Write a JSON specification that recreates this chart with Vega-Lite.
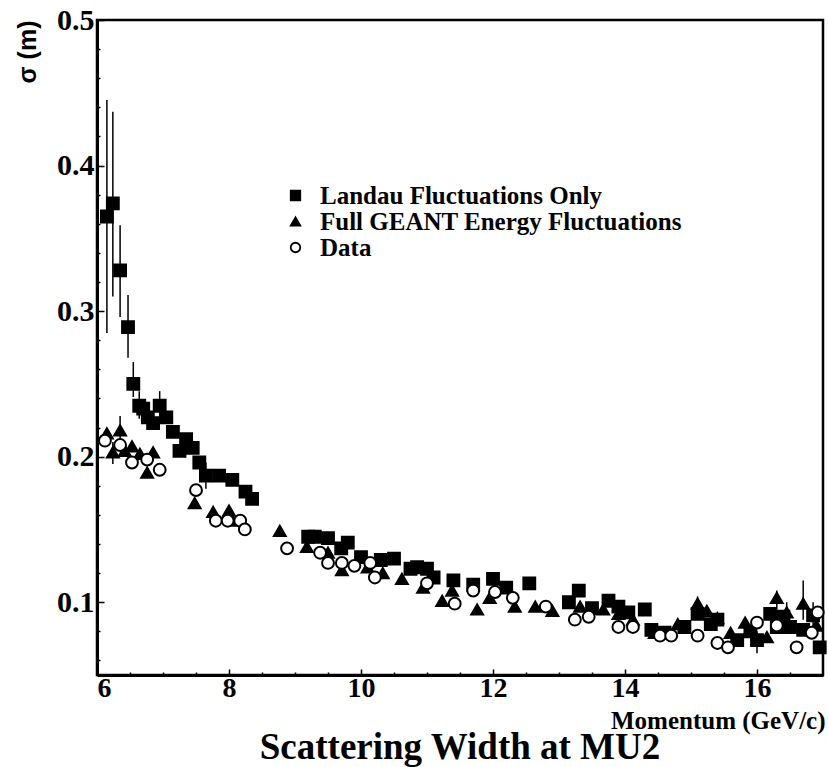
{
  "$schema": "https://vega.github.io/schema/vega-lite/v6.json",
  "autosize": {"type": "none"},
  "padding": {"left": 97, "top": 20, "right": 5, "bottom": 92},
  "width": 726,
  "height": 655,
  "background": "white",
  "config": {
    "view": {"stroke": "black", "strokeWidth": 2.5},
    "axis": {"grid": false, "domainColor": "black", "tickColor": "black", "labelColor": "black", "titleColor": "black"},
    "legend": {"title": null, "orient": "none", "legendX": 186, "legendY": 163, "padding": 0, "rowPadding": 0,
      "labelFont": "Liberation Serif", "labelFontWeight": "bold", "labelFontSize": 25, "labelColor": "black", "labelLimit": 600,
      "labelOffset": 12, "symbolSize": 90, "symbolStrokeWidth": 1.8}
  },
  "title": {
    "text": "Scattering Width at MU2",
    "orient": "bottom",
    "anchor": "middle",
    "font": "Liberation Serif",
    "fontWeight": "bold",
    "fontSize": 37,
    "color": "black",
    "offset": -3
  },
  "datasets": {
    "pts": [
      {"p": 6.15, "s": 0.365, "series": "Landau Fluctuations Only"},
      {"p": 6.24, "s": 0.374, "series": "Landau Fluctuations Only"},
      {"p": 6.35, "s": 0.328, "series": "Landau Fluctuations Only"},
      {"p": 6.47, "s": 0.289, "series": "Landau Fluctuations Only"},
      {"p": 6.55, "s": 0.25, "series": "Landau Fluctuations Only"},
      {"p": 6.64, "s": 0.235, "series": "Landau Fluctuations Only"},
      {"p": 6.7, "s": 0.233, "series": "Landau Fluctuations Only"},
      {"p": 6.77, "s": 0.227, "series": "Landau Fluctuations Only"},
      {"p": 6.85, "s": 0.223, "series": "Landau Fluctuations Only"},
      {"p": 6.95, "s": 0.235, "series": "Landau Fluctuations Only"},
      {"p": 7.05, "s": 0.227, "series": "Landau Fluctuations Only"},
      {"p": 7.15, "s": 0.217, "series": "Landau Fluctuations Only"},
      {"p": 7.25, "s": 0.204, "series": "Landau Fluctuations Only"},
      {"p": 7.35, "s": 0.212, "series": "Landau Fluctuations Only"},
      {"p": 7.45, "s": 0.206, "series": "Landau Fluctuations Only"},
      {"p": 7.55, "s": 0.196, "series": "Landau Fluctuations Only"},
      {"p": 7.65, "s": 0.187, "series": "Landau Fluctuations Only"},
      {"p": 7.85, "s": 0.187, "series": "Landau Fluctuations Only"},
      {"p": 8.05, "s": 0.184, "series": "Landau Fluctuations Only"},
      {"p": 8.25, "s": 0.176, "series": "Landau Fluctuations Only"},
      {"p": 8.35, "s": 0.171, "series": "Landau Fluctuations Only"},
      {"p": 9.2, "s": 0.145, "series": "Landau Fluctuations Only"},
      {"p": 9.3, "s": 0.145, "series": "Landau Fluctuations Only"},
      {"p": 9.5, "s": 0.144, "series": "Landau Fluctuations Only"},
      {"p": 9.7, "s": 0.137, "series": "Landau Fluctuations Only"},
      {"p": 9.8, "s": 0.141, "series": "Landau Fluctuations Only"},
      {"p": 10.0, "s": 0.131, "series": "Landau Fluctuations Only"},
      {"p": 10.3, "s": 0.129, "series": "Landau Fluctuations Only"},
      {"p": 10.5, "s": 0.13, "series": "Landau Fluctuations Only"},
      {"p": 10.75, "s": 0.123, "series": "Landau Fluctuations Only"},
      {"p": 10.85, "s": 0.124, "series": "Landau Fluctuations Only"},
      {"p": 11.0, "s": 0.123, "series": "Landau Fluctuations Only"},
      {"p": 11.1, "s": 0.117, "series": "Landau Fluctuations Only"},
      {"p": 11.4, "s": 0.115, "series": "Landau Fluctuations Only"},
      {"p": 11.7, "s": 0.112, "series": "Landau Fluctuations Only"},
      {"p": 12.0, "s": 0.116, "series": "Landau Fluctuations Only"},
      {"p": 12.2, "s": 0.11, "series": "Landau Fluctuations Only"},
      {"p": 12.55, "s": 0.113, "series": "Landau Fluctuations Only"},
      {"p": 13.15, "s": 0.1, "series": "Landau Fluctuations Only"},
      {"p": 13.3, "s": 0.108, "series": "Landau Fluctuations Only"},
      {"p": 13.5, "s": 0.096, "series": "Landau Fluctuations Only"},
      {"p": 13.75, "s": 0.101, "series": "Landau Fluctuations Only"},
      {"p": 13.9, "s": 0.097, "series": "Landau Fluctuations Only"},
      {"p": 14.05, "s": 0.093, "series": "Landau Fluctuations Only"},
      {"p": 14.3, "s": 0.095, "series": "Landau Fluctuations Only"},
      {"p": 14.4, "s": 0.081, "series": "Landau Fluctuations Only"},
      {"p": 14.6, "s": 0.079, "series": "Landau Fluctuations Only"},
      {"p": 14.9, "s": 0.083, "series": "Landau Fluctuations Only"},
      {"p": 15.1, "s": 0.092, "series": "Landau Fluctuations Only"},
      {"p": 15.3, "s": 0.085, "series": "Landau Fluctuations Only"},
      {"p": 15.4, "s": 0.088, "series": "Landau Fluctuations Only"},
      {"p": 15.7, "s": 0.074, "series": "Landau Fluctuations Only"},
      {"p": 15.9, "s": 0.08, "series": "Landau Fluctuations Only"},
      {"p": 16.0, "s": 0.074, "series": "Landau Fluctuations Only"},
      {"p": 16.2, "s": 0.092, "series": "Landau Fluctuations Only"},
      {"p": 16.3, "s": 0.083, "series": "Landau Fluctuations Only"},
      {"p": 16.4, "s": 0.09, "series": "Landau Fluctuations Only"},
      {"p": 16.5, "s": 0.083, "series": "Landau Fluctuations Only"},
      {"p": 16.7, "s": 0.081, "series": "Landau Fluctuations Only"},
      {"p": 16.85, "s": 0.091, "series": "Landau Fluctuations Only"},
      {"p": 16.95, "s": 0.069, "series": "Landau Fluctuations Only"},
      {"p": 6.15, "s": 0.216, "series": "Full GEANT Energy Fluctuations"},
      {"p": 6.24, "s": 0.203, "series": "Full GEANT Energy Fluctuations"},
      {"p": 6.35, "s": 0.218, "series": "Full GEANT Energy Fluctuations"},
      {"p": 6.42, "s": 0.204, "series": "Full GEANT Energy Fluctuations"},
      {"p": 6.53, "s": 0.207, "series": "Full GEANT Energy Fluctuations"},
      {"p": 6.65, "s": 0.202, "series": "Full GEANT Energy Fluctuations"},
      {"p": 6.76, "s": 0.189, "series": "Full GEANT Energy Fluctuations"},
      {"p": 6.85, "s": 0.203, "series": "Full GEANT Energy Fluctuations"},
      {"p": 7.48, "s": 0.168, "series": "Full GEANT Energy Fluctuations"},
      {"p": 7.76, "s": 0.162, "series": "Full GEANT Energy Fluctuations"},
      {"p": 8.0, "s": 0.163, "series": "Full GEANT Energy Fluctuations"},
      {"p": 8.05, "s": 0.156, "series": "Full GEANT Energy Fluctuations"},
      {"p": 8.77, "s": 0.149, "series": "Full GEANT Energy Fluctuations"},
      {"p": 9.18, "s": 0.138, "series": "Full GEANT Energy Fluctuations"},
      {"p": 9.5, "s": 0.134, "series": "Full GEANT Energy Fluctuations"},
      {"p": 9.71, "s": 0.122, "series": "Full GEANT Energy Fluctuations"},
      {"p": 10.1, "s": 0.124, "series": "Full GEANT Energy Fluctuations"},
      {"p": 10.33, "s": 0.12, "series": "Full GEANT Energy Fluctuations"},
      {"p": 10.62, "s": 0.116, "series": "Full GEANT Energy Fluctuations"},
      {"p": 10.94, "s": 0.11, "series": "Full GEANT Energy Fluctuations"},
      {"p": 11.23, "s": 0.101, "series": "Full GEANT Energy Fluctuations"},
      {"p": 11.38, "s": 0.108, "series": "Full GEANT Energy Fluctuations"},
      {"p": 11.76, "s": 0.095, "series": "Full GEANT Energy Fluctuations"},
      {"p": 11.95, "s": 0.103, "series": "Full GEANT Energy Fluctuations"},
      {"p": 12.33, "s": 0.097, "series": "Full GEANT Energy Fluctuations"},
      {"p": 12.64, "s": 0.097, "series": "Full GEANT Energy Fluctuations"},
      {"p": 12.9, "s": 0.094, "series": "Full GEANT Energy Fluctuations"},
      {"p": 13.32, "s": 0.097, "series": "Full GEANT Energy Fluctuations"},
      {"p": 13.67, "s": 0.095, "series": "Full GEANT Energy Fluctuations"},
      {"p": 13.9, "s": 0.092, "series": "Full GEANT Energy Fluctuations"},
      {"p": 14.12, "s": 0.088, "series": "Full GEANT Energy Fluctuations"},
      {"p": 14.45, "s": 0.079, "series": "Full GEANT Energy Fluctuations"},
      {"p": 14.8, "s": 0.085, "series": "Full GEANT Energy Fluctuations"},
      {"p": 15.1, "s": 0.099, "series": "Full GEANT Energy Fluctuations"},
      {"p": 15.24, "s": 0.094, "series": "Full GEANT Energy Fluctuations"},
      {"p": 15.4, "s": 0.089, "series": "Full GEANT Energy Fluctuations"},
      {"p": 15.6, "s": 0.079, "series": "Full GEANT Energy Fluctuations"},
      {"p": 15.82, "s": 0.086, "series": "Full GEANT Energy Fluctuations"},
      {"p": 16.15, "s": 0.076, "series": "Full GEANT Energy Fluctuations"},
      {"p": 16.3, "s": 0.103, "series": "Full GEANT Energy Fluctuations"},
      {"p": 16.45, "s": 0.093, "series": "Full GEANT Energy Fluctuations"},
      {"p": 16.7, "s": 0.099, "series": "Full GEANT Energy Fluctuations"},
      {"p": 16.9, "s": 0.084, "series": "Full GEANT Energy Fluctuations"},
      {"p": 6.12, "s": 0.211, "series": "Data"},
      {"p": 6.35, "s": 0.208, "series": "Data"},
      {"p": 6.53, "s": 0.196, "series": "Data"},
      {"p": 6.76, "s": 0.198, "series": "Data"},
      {"p": 6.95, "s": 0.191, "series": "Data"},
      {"p": 7.5, "s": 0.177, "series": "Data"},
      {"p": 7.8, "s": 0.156, "series": "Data"},
      {"p": 7.98, "s": 0.156, "series": "Data"},
      {"p": 8.17, "s": 0.156, "series": "Data"},
      {"p": 8.24, "s": 0.15, "series": "Data"},
      {"p": 8.88, "s": 0.137, "series": "Data"},
      {"p": 9.38, "s": 0.134, "series": "Data"},
      {"p": 9.5, "s": 0.127, "series": "Data"},
      {"p": 9.71, "s": 0.127, "series": "Data"},
      {"p": 9.9, "s": 0.125, "series": "Data"},
      {"p": 10.14, "s": 0.127, "series": "Data"},
      {"p": 10.21, "s": 0.117, "series": "Data"},
      {"p": 11.0, "s": 0.113, "series": "Data"},
      {"p": 11.42, "s": 0.099, "series": "Data"},
      {"p": 11.7, "s": 0.108, "series": "Data"},
      {"p": 12.03, "s": 0.107, "series": "Data"},
      {"p": 12.3, "s": 0.103, "series": "Data"},
      {"p": 12.8, "s": 0.097, "series": "Data"},
      {"p": 13.24, "s": 0.088, "series": "Data"},
      {"p": 13.45, "s": 0.09, "series": "Data"},
      {"p": 13.9, "s": 0.083, "series": "Data"},
      {"p": 14.12, "s": 0.083, "series": "Data"},
      {"p": 14.53, "s": 0.077, "series": "Data"},
      {"p": 14.7, "s": 0.077, "series": "Data"},
      {"p": 15.1, "s": 0.077, "series": "Data"},
      {"p": 15.4, "s": 0.072, "series": "Data"},
      {"p": 15.56, "s": 0.069, "series": "Data"},
      {"p": 16.0, "s": 0.086, "series": "Data"},
      {"p": 16.3, "s": 0.084, "series": "Data"},
      {"p": 16.6, "s": 0.069, "series": "Data"},
      {"p": 16.83, "s": 0.079, "series": "Data"},
      {"p": 16.92, "s": 0.093, "series": "Data"}
    ],
    "errs": [
      {"p": 6.15, "lo": 0.285, "hi": 0.445},
      {"p": 6.24, "lo": 0.31, "hi": 0.437},
      {"p": 6.35, "lo": 0.296, "hi": 0.359},
      {"p": 6.47, "lo": 0.268, "hi": 0.311},
      {"p": 6.55, "lo": 0.241, "hi": 0.265},
      {"p": 6.64, "lo": 0.226, "hi": 0.245},
      {"p": 6.95, "lo": 0.225, "hi": 0.245},
      {"p": 7.65, "lo": 0.178, "hi": 0.196},
      {"p": 6.24, "lo": 0.195, "hi": 0.21},
      {"p": 6.35, "lo": 0.21, "hi": 0.228},
      {"p": 15.1, "lo": 0.09, "hi": 0.104},
      {"p": 16.0, "lo": 0.065, "hi": 0.08},
      {"p": 16.3, "lo": 0.095, "hi": 0.108},
      {"p": 16.45, "lo": 0.085, "hi": 0.1},
      {"p": 16.7, "lo": 0.088, "hi": 0.115},
      {"p": 16.85, "lo": 0.082, "hi": 0.1}
    ]
  },
  "resolve": {"axis": {"x": "independent", "y": "independent"}},
  "layer": [
    {
      "data": {"name": "errs"},
      "mark": {"type": "rule", "color": "black", "strokeWidth": 1.5},
      "encoding": {
        "x": {"field": "p", "type": "quantitative", "scale": {"domain": [6, 17], "nice": false, "zero": false},
          "axis": {"orient": "bottom", "values": [6.5, 7, 7.5, 8.5, 9, 9.5, 10.5, 11, 11.5, 12.5, 13, 13.5, 14.5, 15, 15.5, 16.5], "labels": false, "domain": false, "ticks": true, "tickSize": -3, "tickWidth": 1.5, "title": null, "grid": false}},
        "y": {"field": "lo", "type": "quantitative", "scale": {"domain": [0.05, 0.5], "nice": false, "zero": false},
          "axis": {"orient": "left", "values": [0.06, 0.08, 0.12, 0.14, 0.16, 0.18, 0.22, 0.24, 0.26, 0.28, 0.32, 0.34, 0.36, 0.38, 0.42, 0.44, 0.46, 0.48], "labels": false, "domain": false, "ticks": true, "tickSize": -3, "tickWidth": 1.5, "title": null, "grid": false}},
        "y2": {"field": "hi"}
      }
    },
    {
      "data": {"name": "pts"},
      "mark": {"type": "point", "strokeWidth": 2, "opacity": 1},
      "encoding": {
        "x": {"field": "p", "type": "quantitative", "scale": {"domain": [6, 17], "nice": false, "zero": false},
          "axis": {"orient": "bottom", "values": [6, 8, 10, 12, 14, 16], "format": "d", "tickSize": -6, "tickWidth": 1.5, "domainWidth": 3,
            "labelFont": "Liberation Serif", "labelFontWeight": "bold", "labelFontSize": 28, "labelPadding": 5,
            "title": "Momentum (GeV/c)", "titleFont": "Liberation Serif", "titleFontWeight": "bold", "titleFontSize": 25,
            "titleAnchor": "end", "titleAlign": "right", "titleBaseline": "alphabetic", "titleX": 728, "titleY": 53}},
        "y": {"field": "s", "type": "quantitative", "scale": {"domain": [0.05, 0.5], "nice": false, "zero": false},
          "axis": {"orient": "left", "values": [0.1, 0.2, 0.3, 0.4, 0.5], "format": ".1f", "tickSize": -7, "tickWidth": 1.5, "domainWidth": 3,
            "labelFont": "Liberation Serif", "labelFontWeight": "bold", "labelFontSize": 30, "labelPadding": 10,
            "title": "σ (m)", "titleFont": "Liberation Sans", "titleFontWeight": "bold", "titleFontSize": 25,
            "titleAngle": -90, "titleAlign": "right", "titleBaseline": "middle", "titleX": -70, "titleY": 0}},
        "shape": {"field": "series", "type": "nominal",
          "scale": {"domain": ["Landau Fluctuations Only", "Full GEANT Energy Fluctuations", "Data"], "range": ["square", "triangle-up", "circle"]}},
        "fill": {"field": "series", "type": "nominal",
          "scale": {"domain": ["Landau Fluctuations Only", "Full GEANT Energy Fluctuations", "Data"], "range": ["black", "black", "white"]}},
        "stroke": {"field": "series", "type": "nominal",
          "scale": {"domain": ["Landau Fluctuations Only", "Full GEANT Energy Fluctuations", "Data"], "range": ["black", "black", "black"]}},
        "size": {"value": 140}
      }
    }
  ]
}
